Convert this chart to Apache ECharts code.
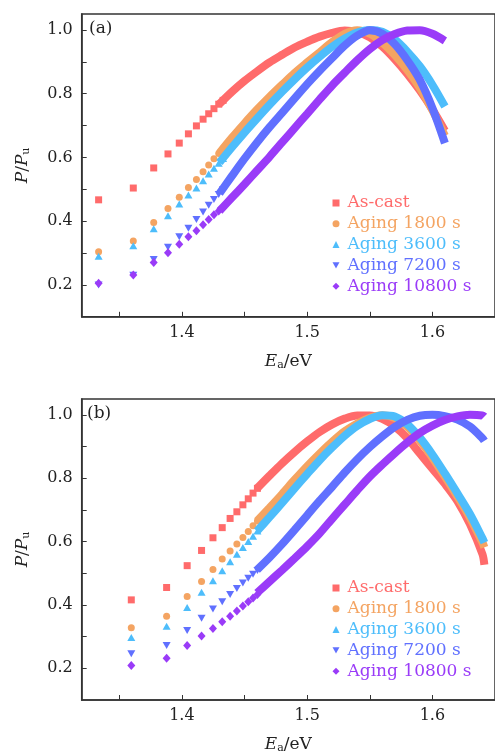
<!DOCTYPE html>
<html>
<head>
<meta charset="utf-8">
<script src="https://cdn.jsdelivr.net/npm/echarts@6/dist/echarts.min.js"></script>
<style>
    html, body { margin: 0; padding: 0; background: #fff; }
    #main { width: 495px; height: 755px; }
</style>
</head>
<body>
<div id="main"></div>
<script>
// ---- tick marks / labels (shared by both panels)
var xTicks = [1.35, 1.4, 1.45, 1.5, 1.55, 1.6, 1.65];
var xLabels = [1.4, 1.5, 1.6];
var yTicks = [0.2, 0.3, 0.4, 0.5, 0.6, 0.7, 0.8, 0.9, 1.0];
var yLabels = [0.2, 0.4, 0.6, 0.8, 1.0];

var names = ['As-cast', 'Aging 1800 s', 'Aging 3600 s', 'Aging 7200 s', 'Aging 10800 s'];
var colors = ['#ff6b6b', '#f4a462', '#4dbdfb', '#6070ff', '#9a3bf8'];

// ---- panel (a): separate markers at low E, dense band afterwards
var xaDots = [1.3335, 1.3612, 1.3775, 1.3889, 1.3979, 1.4052, 1.4116, 1.4169, 1.4214, 1.4256, 1.4294, 1.4329];
var aCastDots = [0.467, 0.504, 0.567, 0.611, 0.645, 0.674, 0.699, 0.720, 0.737, 0.753, 0.767, 0.779];
var a1800Dots = [0.304, 0.338, 0.396, 0.440, 0.475, 0.506, 0.531, 0.555, 0.576, 0.596, 0.612, 0.626];
var a3600Dots = [0.290, 0.323, 0.376, 0.417, 0.454, 0.482, 0.504, 0.527, 0.548, 0.566, 0.582, 0.597];
var a7200Dots = [0.200, 0.230, 0.280, 0.318, 0.351, 0.378, 0.405, 0.429, 0.450, 0.468, 0.484, 0.499];
var a10800Dots = [0.205, 0.231, 0.270, 0.301, 0.328, 0.351, 0.370, 0.389, 0.405, 0.420, 0.432, 0.443];

var xaBand = [1.43, 1.44, 1.45, 1.46, 1.47, 1.48, 1.49, 1.50, 1.51, 1.52, 1.53, 1.54, 1.55, 1.56, 1.57, 1.58, 1.59, 1.60, 1.61];
var aCastBand = [0.768, 0.806, 0.840, 0.870, 0.898, 0.922, 0.945, 0.963, 0.979, 0.991, 0.998, 0.993, 0.977, 0.948, 0.908, 0.862, 0.810, 0.751, 0.684];
var a1800Band = [0.614, 0.662, 0.707, 0.750, 0.790, 0.828, 0.865, 0.898, 0.930, 0.962, 0.988, 0.999, 0.988, 0.960, 0.921, 0.874, 0.818, 0.748, 0.668];
var a3600Band = [0.584, 0.632, 0.678, 0.722, 0.765, 0.806, 0.845, 0.882, 0.916, 0.947, 0.973, 0.992, 1.000, 0.994, 0.970, 0.932, 0.886, 0.828, 0.760];
var a7200Band = [0.487, 0.542, 0.596, 0.647, 0.695, 0.740, 0.785, 0.830, 0.872, 0.912, 0.951, 0.982, 0.999, 0.988, 0.955, 0.905, 0.843, 0.755, 0.645];
var a10800Band = [0.432, 0.474, 0.516, 0.559, 0.602, 0.647, 0.692, 0.737, 0.782, 0.826, 0.866, 0.905, 0.940, 0.968, 0.987, 0.998, 0.999, 0.988, 0.966];

// ---- panel (b)
var xbDots = [1.3596, 1.3878, 1.4042, 1.4157, 1.4248, 1.4322, 1.4385, 1.4439, 1.4487, 1.4530, 1.4568, 1.4603];
var bCastDots = [0.416, 0.455, 0.524, 0.572, 0.612, 0.644, 0.673, 0.694, 0.716, 0.735, 0.753, 0.768];
var b1800Dots = [0.328, 0.364, 0.427, 0.474, 0.512, 0.545, 0.570, 0.592, 0.613, 0.632, 0.650, 0.665];
var b3600Dots = [0.297, 0.333, 0.392, 0.440, 0.476, 0.508, 0.536, 0.560, 0.581, 0.600, 0.617, 0.633];
var b7200Dots = [0.246, 0.272, 0.319, 0.358, 0.387, 0.410, 0.433, 0.452, 0.469, 0.484, 0.497, 0.509];
var b10800Dots = [0.209, 0.232, 0.272, 0.302, 0.326, 0.347, 0.364, 0.381, 0.397, 0.410, 0.422, 0.433];

var xbBand = [1.46, 1.47, 1.48, 1.49, 1.50, 1.51, 1.52, 1.53, 1.54, 1.55, 1.56, 1.57, 1.58, 1.59, 1.60, 1.61, 1.62, 1.63, 1.64, 1.6415];
var bCastBand = [0.768, 0.808, 0.847, 0.883, 0.916, 0.946, 0.970, 0.988, 0.998, 0.998, 0.987, 0.963, 0.926, 0.878, 0.830, 0.782, 0.728, 0.655, 0.560, 0.527];
var b1800Band = [0.665, 0.707, 0.750, 0.795, 0.838, 0.878, 0.915, 0.948, 0.973, 0.991, 0.999, 0.990, 0.962, 0.918, 0.865, 0.805, 0.742, 0.675, 0.597, 0.582];
var b3600Band = [0.633, 0.677, 0.722, 0.768, 0.813, 0.857, 0.897, 0.934, 0.965, 0.987, 0.999, 0.995, 0.970, 0.928, 0.875, 0.815, 0.752, 0.687, 0.610, 0.597];
var b7200Band = [0.511, 0.550, 0.592, 0.637, 0.683, 0.729, 0.773, 0.818, 0.860, 0.898, 0.932, 0.962, 0.984, 0.997, 1.000, 0.996, 0.985, 0.963, 0.926, 0.918];
var b10800Band = [0.438, 0.474, 0.510, 0.547, 0.585, 0.626, 0.672, 0.717, 0.762, 0.805, 0.843, 0.879, 0.913, 0.943, 0.966, 0.984, 0.995, 1.000, 0.998, 0.994];

var downTri = 'path://M0,0L10,0L5,8.66Z';
var symbols = ['rect', 'circle', 'triangle', downTri, 'diamond'];
var symSizes = [7, 7, [8, 7], [8, 7], [8, 9]];
var legendIcons = ['rect', 'circle', 'triangle', downTri, 'diamond'];

var font = 'DejaVu Serif';
var ink = '#222';

function pairs(xs, ys) {
    return xs.map(function (x, i) { return [x, ys[i]]; });
}

function addPanel(series, idx, xDots, dots, xBand, bands) {
    for (var k = 0; k < names.length; k++) {
        series.push({
            name: names[k],
            type: 'scatter',
            xAxisIndex: idx,
            yAxisIndex: idx,
            symbol: symbols[k],
            symbolSize: symSizes[k],
            itemStyle: { color: colors[k], opacity: 1 },
            data: pairs(xDots, dots[k])
        });
        // the markers overlap into a solid band where points get dense
        series.push({
            name: names[k] + ' band',
            type: 'line',
            xAxisIndex: idx,
            yAxisIndex: idx,
            showSymbol: false,
            smooth: 0.3,
            lineStyle: { color: colors[k], width: 8 },
            data: pairs(xBand, bands[k])
        });
    }
}

function xAxisOpt(idx) {
    return {
        gridIndex: idx,
        type: 'value',
        min: 1.32,
        max: 1.65,
        axisLine: { lineStyle: { color: '#333', width: 1.5 } },
        axisTick: { inside: true, length: 5, customValues: xTicks, lineStyle: { color: '#333' } },
        axisLabel: {
            customValues: xLabels, margin: 8,
            fontFamily: font, fontSize: 16, color: ink,
            formatter: function (v) { return v.toFixed(1); }
        },
        splitLine: { show: false },
        name: '{i|E}{s|a}/eV',
        nameLocation: 'middle',
        nameGap: 36,
        nameTextStyle: {
            fontFamily: font, fontSize: 17, color: ink,
            rich: {
                i: { fontFamily: font, fontSize: 17, fontStyle: 'italic', color: ink },
                s: { fontFamily: font, fontSize: 11, color: ink, padding: [7, 0, 0, 0] }
            }
        }
    };
}

function yAxisOpt(idx) {
    return {
        gridIndex: idx,
        type: 'value',
        min: 0.1,
        max: 1.05,
        axisLine: { lineStyle: { color: '#333', width: 1.5 } },
        axisTick: { inside: true, length: 5, customValues: yTicks, lineStyle: { color: '#333' } },
        axisLabel: {
            customValues: yLabels, margin: 9,
            fontFamily: font, fontSize: 16, color: ink,
            formatter: function (v) { return v.toFixed(1); }
        },
        splitLine: { show: false },
        name: '{i|P}/{i|P}{s|u}',
        nameLocation: 'middle',
        nameRotate: 90,
        nameGap: 50,
        nameTextStyle: {
            fontFamily: font, fontSize: 17, color: ink,
            rich: {
                i: { fontFamily: font, fontSize: 17, fontStyle: 'italic', color: ink },
                s: { fontFamily: font, fontSize: 11, color: ink, padding: [7, 0, 0, 0] }
            }
        }
    };
}

function legendOpt(top) {
    return {
        left: 332.5,
        top: top,
        orient: 'vertical',
        padding: 0,
        itemWidth: 7,
        itemHeight: 7,
        itemGap: 0.8,
        symbolKeepAspect: true,
        textStyle: { fontFamily: font, fontSize: 17, lineHeight: 20, padding: [0, 0, 0, 3] },
        data: names.map(function (n, k) {
            return {
                name: n,
                icon: legendIcons[k],
                itemStyle: { color: colors[k] },
                textStyle: { fontFamily: font, fontSize: 17, lineHeight: 20, color: colors[k] }
            };
        })
    };
}

var series = [];
addPanel(series, 0, xaDots,
    [aCastDots, a1800Dots, a3600Dots, a7200Dots, a10800Dots],
    xaBand, [aCastBand, a1800Band, a3600Band, a7200Band, a10800Band]);
addPanel(series, 1, xbDots,
    [bCastDots, b1800Dots, b3600Dots, b7200Dots, b10800Dots],
    xbBand, [bCastBand, b1800Band, b3600Band, b7200Band, b10800Band]);

var myChart = echarts.init(document.getElementById('main'), null, { renderer: 'canvas' });
var option = {
    animation: false,
    backgroundColor: '#fff',
    title: [
        { text: '(a)', left: 89, top: 20, padding: 0, textStyle: { fontFamily: font, fontSize: 17, fontWeight: 'normal', color: ink } },
        { text: '(b)', left: 87, top: 405, padding: 0, textStyle: { fontFamily: font, fontSize: 17, fontWeight: 'normal', color: ink } }
    ],
    grid: [
        { left: 81.7, top: 14, width: 416, height: 302.8, show: true, borderColor: '#333', borderWidth: 1.5 },
        { left: 81.7, top: 399, width: 416, height: 302.7, show: true, borderColor: '#333', borderWidth: 1.5 }
    ],
    legend: [legendOpt(193), legendOpt(578)],
    xAxis: [xAxisOpt(0), xAxisOpt(1)],
    yAxis: [yAxisOpt(0), yAxisOpt(1)],
    series: series
};
myChart.setOption(option);
</script>
</body>
</html>
